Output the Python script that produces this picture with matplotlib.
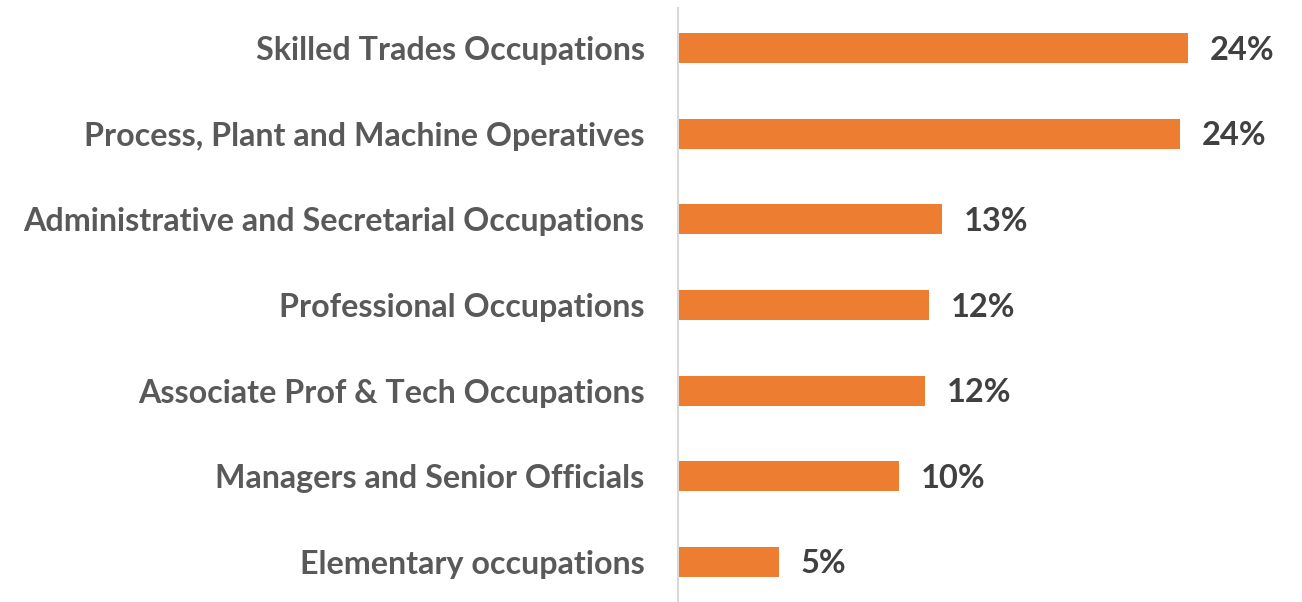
import matplotlib
matplotlib.use("Agg")
import matplotlib.pyplot as plt

categories = [
    "Skilled Trades Occupations",
    "Process, Plant and Machine Operatives",
    "Administrative and Secretarial Occupations",
    "Professional Occupations",
    "Associate Prof & Tech Occupations",
    "Managers and Senior Officials",
    "Elementary occupations",
]
values = [24.0, 23.6, 12.4, 11.8, 11.6, 10.4, 4.75]
value_labels = ["24%", "24%", "13%", "12%", "12%", "10%", "5%"]

plt.rcParams['font.family'] = ['Lato', 'DejaVu Sans']

fig = plt.figure(figsize=(13.02, 6.02), dpi=100)
ax = fig.add_axes([678/1302, 0, 1 - 678/1302, 594/602])

y = list(range(len(categories)))
ax.barh(y, values, height=0.35, color="#ED7D31")
ax.set_xlim(0, (1302 - 678) / 21.25)
ax.set_ylim(6.467, -0.467)

for yi, v, lab in zip(y, values, value_labels):
    ax.annotate(lab, xy=(v, yi), xytext=(22, -2), textcoords="offset pixels",
                va="center", ha="left", fontsize=23.5, fontweight="bold", color="#404040")

ax.set_yticks(y)
ax.set_yticklabels(categories, fontsize=23.2, fontweight="bold", color="#595959")
ax.tick_params(axis="y", length=0, pad=24)
ax.set_xticks([])
for s in ["top", "right", "bottom"]:
    ax.spines[s].set_visible(False)
ax.spines["left"].set_color("#d9d9d9")
ax.spines["left"].set_linewidth(1.5)

fig.savefig("out.png", dpi=100)
